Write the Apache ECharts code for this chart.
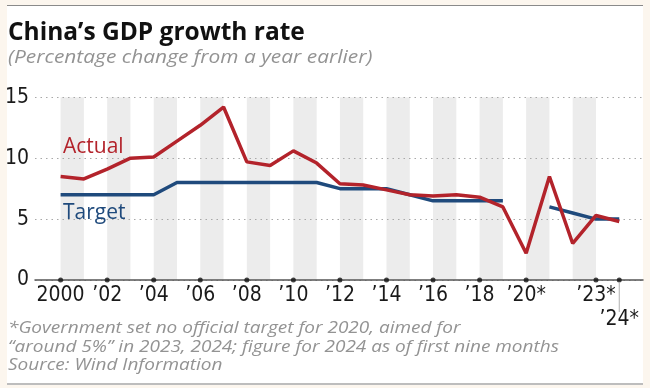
<!DOCTYPE html>
<html><head><meta charset="utf-8">
<script src="https://cdn.jsdelivr.net/npm/echarts@6/dist/echarts.min.js"></script>
<style>
html,body{margin:0;padding:0;background:#fcf6ee;}
#wrap{position:relative;width:650px;height:388px;background:#fcf6ee;}
#panel{position:absolute;left:7px;top:5px;width:636px;height:377px;background:#fff;border-top:1.5px solid #8a8a8a;border-bottom:2.5px solid #bdbdbd;}
#c{position:absolute;left:0;top:0;width:650px;height:388px;}
</style>
</head><body>
<div id="wrap"><div id="panel"></div><div id="c"></div></div>
<script>
// ---- data ----
const years = [2000,2001,2002,2003,2004,2005,2006,2007,2008,2009,2010,2011,2012,2013,2014,2015,2016,2017,2018,2019,2020,2021,2022,2023,2024];
const actual = [8.5,8.3,9.1,10.0,10.1,11.4,12.7,14.2,9.7,9.4,10.6,9.6,7.9,7.8,7.4,7.0,6.9,7.0,6.8,6.0,2.2,8.5,3.0,5.3,4.8];
const target = [7.0,7.0,7.0,7.0,7.0,8.0,8.0,8.0,8.0,8.0,8.0,8.0,7.5,7.5,7.5,7.0,6.5,6.5,6.5,6.5,null,6.0,5.5,5.0,5.0];
const tickYears = [2000,2002,2004,2006,2008,2010,2012,2014,2016,2018,2020,2023,2024];
const tickLabels = ["2000","’02","’04","’06","’08","’10","’12","’14","’16","’18","’20*","’23*","’24*"];
const bandStarts = [2000,2002,2004,2006,2008,2010,2012,2014,2016,2018,2020,2022];
const titleText = "China’s GDP growth rate";
const subtitleText = "(Percentage change from a year earlier)";
const notes = ["*Government set no official target for 2020, aimed for",
               "“around 5%” in 2023, 2024; figure for 2024 as of first nine months",
               "Source: Wind Information"];
// ---- chart ----
const RED = '#b3232b', BLUE = '#1f4a7c';
const NARROW = "'DejaVu Sans Condensed',sans-serif";
const SANS = "'Open Sans',sans-serif";
const labelMap = {};
tickYears.forEach((y,i)=>labelMap[y]=tickLabels[i]);
const chart = echarts.init(document.getElementById('c'), null, {renderer:'canvas'});
const option = {
  backgroundColor: 'transparent',
  animation: false,
  grid: {left:35, right:7, top:97.3, bottom:108, containLabel:false},
  xAxis: {
    type:'value', min:1998.9, max:2025.02,
    axisLine:{show:true, onZero:false, lineStyle:{color:'#555', width:1.5}},
    axisTick:{show:false},
    splitLine:{show:false},
    axisLabel:{
      customValues: tickYears.slice(0, tickYears.length-1),
      formatter: v => labelMap[v] || '',
      fontFamily: NARROW, fontSize:21, color:'#1a1a1a', margin:5
    }
  },
  yAxis: {
    type:'value', min:0, max:15, interval:5,
    axisLine:{show:false}, axisTick:{show:false},
    splitLine:{show:true, lineStyle:{type:[1.5,4], color:'#a8a8a8', width:1.2}},
    axisLabel:{fontFamily: NARROW, fontSize:21, color:'#1a1a1a', margin:6}
  },
  series: [
    {
      type:'line', data:[], z:-1, silent:true,
      markArea:{silent:true, z:-1, itemStyle:{color:'#ececec'},
        data: bandStarts.map(s=>[{xAxis:s},{xAxis:s+1}])}
    },
    {
      name:'Target', type:'line', z:3, showSymbol:false, connectNulls:false,
      lineStyle:{color:BLUE, width:3.5},
      data: years.map((y,i)=>[y, target[i]])
    },
    {
      name:'Actual', type:'line', z:4, showSymbol:false,
      lineStyle:{color:RED, width:3.5},
      data: years.map((y,i)=>[y, actual[i]])
    },
    {
      type:'scatter', z:5, clip:false, silent:true,
      symbolSize:5, itemStyle:{color:'#111'},
      data: tickYears.map(y=>[y,0])
    }
  ]
};
chart.setOption(option);
const p24 = chart.convertToPixel({gridIndex:0}, [2024, 0]);
const noteFont = "italic 17px "+SANS;
const NOTE_COL = '#939393';
chart.setOption({
  graphic: [
    {type:'text', z:50, x:8, y:33, scaleX:1.0, style:{text:titleText, font:"bold 24.5px "+SANS, fill:'#111', verticalAlign:'middle'}},
    {type:'text', z:50, x:8, y:58, scaleX:1.10, style:{text:subtitleText, font:"italic 19px "+SANS, fill:NOTE_COL, verticalAlign:'middle'}},
    {type:'text', z:50, x:63, y:147, style:{text:'Actual', font:"21px "+SANS, fill:RED, verticalAlign:'middle'}},
    {type:'text', z:50, x:63, y:213.5, style:{text:'Target', font:"21px "+SANS, fill:BLUE, verticalAlign:'middle'}},
    {type:'line', z:50, shape:{x1:p24[0], y1:p24[1]+2, x2:p24[0], y2:312}, style:{stroke:'#b0b0b0', lineWidth:1}},
    {type:'text', z:50, x:p24[0], y:320, style:{text:labelMap[2024], font:"21px "+NARROW, fill:'#1a1a1a', align:'center', verticalAlign:'middle'}},
    {type:'text', z:50, x:8, y:328.4, scaleX:1.117, style:{text:notes[0], font:noteFont, fill:NOTE_COL, verticalAlign:'middle'}},
    {type:'text', z:50, x:8, y:346.7, scaleX:1.117, style:{text:notes[1], font:noteFont, fill:NOTE_COL, verticalAlign:'middle'}},
    {type:'text', z:50, x:8, y:365.1, scaleX:1.117, style:{text:notes[2], font:noteFont, fill:NOTE_COL, verticalAlign:'middle'}}
  ]
});
</script>
</body></html>
